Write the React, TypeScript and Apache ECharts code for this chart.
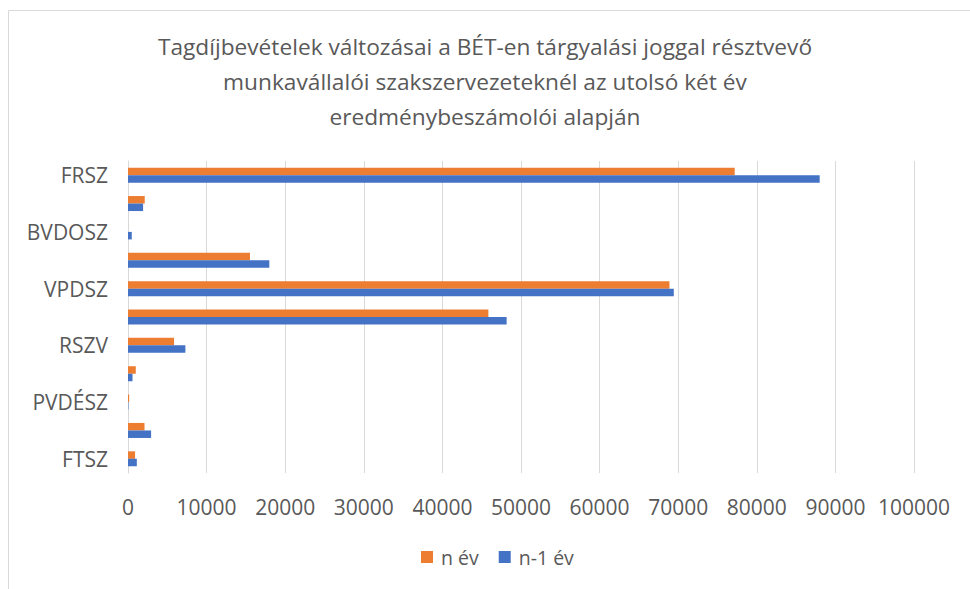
import React, { useEffect, useRef } from "react";
import * as echarts from "echarts";

const titleText =
  "Tagdíjbevételek változásai a BÉT-en tárgyalási joggal résztvevő\nmunkavállalói szakszervezeteknél az utolsó két év\neredménybeszámolói alapján";

// bottom to top
const categories = [
  "FTSZ",
  "(2)",
  "PVDÉSZ",
  "(4)",
  "RSZV",
  "(6)",
  "VPDSZ",
  "(8)",
  "BVDOSZ",
  "(10)",
  "FRSZ",
];
const nEv = [900, 2100, 150, 990, 5860, 45850, 68890, 15520, 0, 2130, 77190];
const n1Ev = [1120, 2940, 50, 570, 7300, 48170, 69440, 17980, 480, 1920, 88000];

const seriesNames = ["n év", "n-1 év"];
const xTicks = { min: 0, max: 100000, interval: 10000 };

const FONT = "'Open Sans', 'Liberation Sans', sans-serif";
const TXT = "#595959";

export default function App() {
  const ref = useRef<HTMLDivElement>(null);
  useEffect(() => {
    if (!ref.current) return;
    const chart = echarts.init(ref.current, undefined, { renderer: "svg" });
    chart.setOption({
      animation: false,
      backgroundColor: "#ffffff",
      textStyle: { fontFamily: FONT, color: TXT },
      graphic: [
        {
          type: "rect",
          shape: { x: 8.5, y: 10.5, width: 1000, height: 600 },
          style: { fill: "none", stroke: "#d9d9d9", lineWidth: 1 },
          silent: true,
        },
        {
          type: "text",
          x: 485,
          y: 29,
          silent: true,
          style: {
            text: titleText,
            fontFamily: FONT,
            fontSize: 22.7,
            fill: TXT,
            lineHeight: 35,
            align: "center",
            verticalAlign: "top",
          },
        },
      ],
      legend: {
        data: seriesNames,
        left: 420,
        top: 546,
        padding: 1,
        itemWidth: 12,
        itemHeight: 12,
        itemGap: 20,
        icon: "rect",
        textStyle: { fontFamily: FONT, fontSize: 19.5, color: TXT, padding: [0, 0, 0, 3] },
      },
      grid: { left: 128, right: 56, top: 161, bottom: 116, containLabel: false },
      xAxis: {
        type: "value",
        min: xTicks.min,
        max: xTicks.max,
        interval: xTicks.interval,
        axisLine: { show: false },
        axisTick: { show: false },
        axisLabel: {
          fontFamily: FONT,
          fontSize: 21,
          color: TXT,
          margin: 23,
          formatter: (v: number) => String(v),
        },
        splitLine: { lineStyle: { color: "#d9d9d9", width: 1 } },
      },
      yAxis: {
        type: "category",
        data: categories,
        axisLine: { show: true, lineStyle: { color: "#d9d9d9" } },
        axisTick: { show: false },
        axisLabel: { interval: 1, fontFamily: FONT, fontSize: 21, color: TXT, margin: 20 },
      },
      series: [
        {
          name: "n év",
          type: "bar",
          data: nEv,
          itemStyle: { color: "#ED7D31" },
          barWidth: 7.5,
          barGap: "0%",
        },
        {
          name: "n-1 év",
          type: "bar",
          data: n1Ev,
          itemStyle: { color: "#4472C4" },
          barWidth: 7.5,
          barGap: "0%",
        },
      ],
    });
    return () => chart.dispose();
  }, []);
  return (
    <div
      ref={ref}
      style={{ position: "fixed", left: 0, top: 0, width: 970, height: 589 }}
    />
  );
}
